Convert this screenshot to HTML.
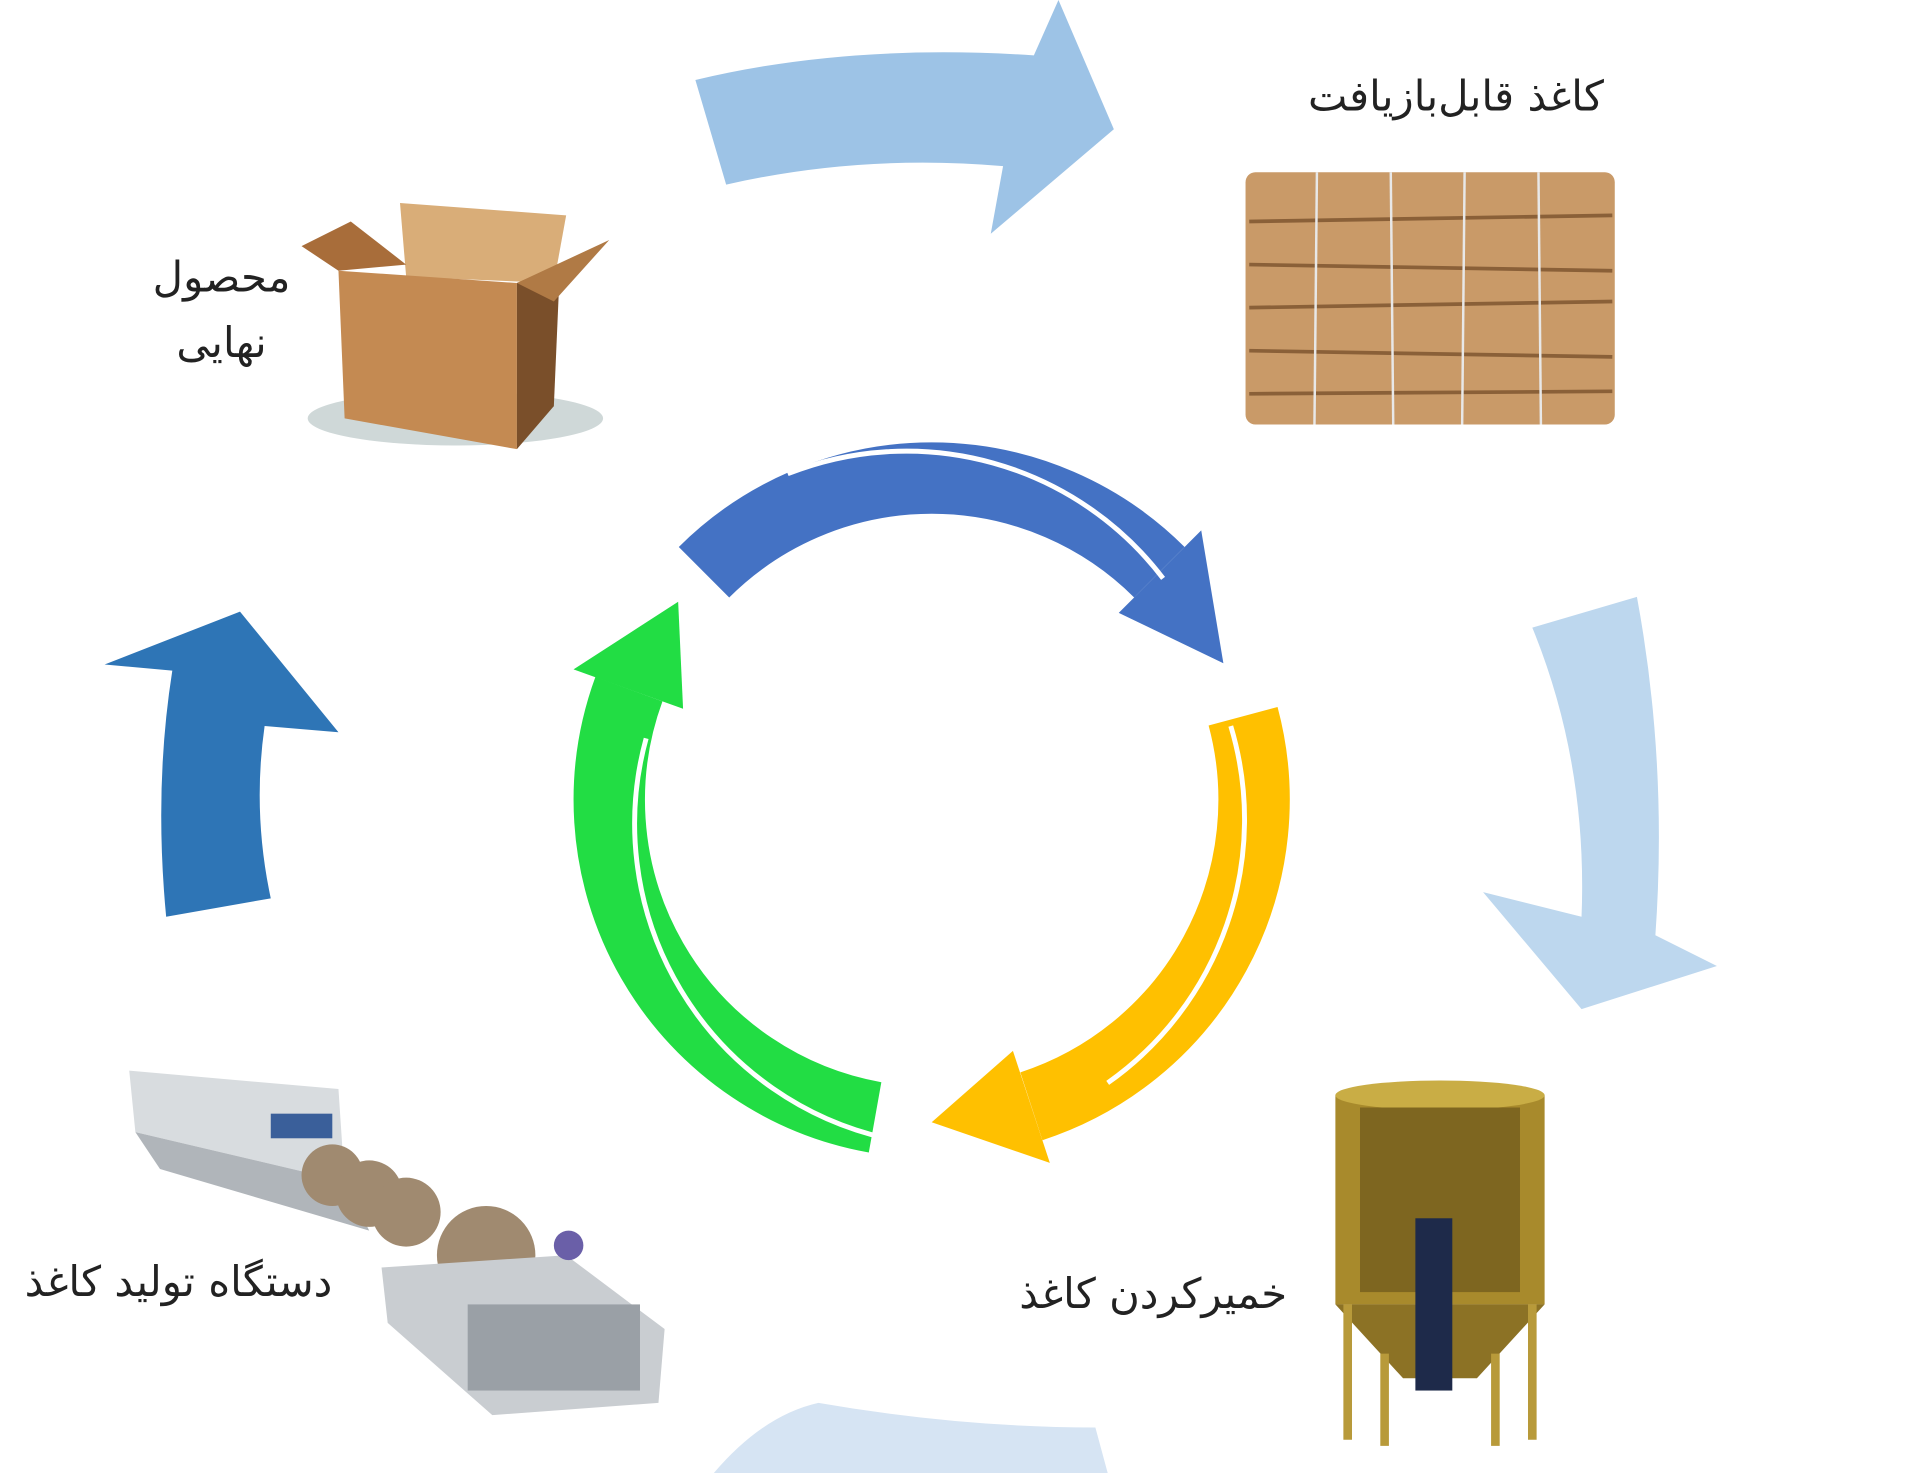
<!DOCTYPE html>
<html><head><meta charset="utf-8"><style>
html,body{margin:0;padding:0;background:#fff;width:1920px;height:1473px;overflow:hidden}
svg{display:block}
text{font-family:"DejaVu Sans","Liberation Sans",sans-serif;font-size:34px;fill:#222}
</style></head><body>
<svg width="1920" height="1473" viewBox="0 0 1560 1197" preserveAspectRatio="none">
<!-- outer light arrows -->
<path d="M565,65 Q690,35 840,45 L860,0 L905,105 L805,190 L815,135 Q700,125 590,150 Z" fill="#9dc3e6"/>
<path d="M1245,510 L1330,485 Q1355,620 1345,760 L1395,785 L1285,820 L1205,725 L1285,745 Q1290,620 1245,510 Z" fill="#bdd7ee"/>
<path d="M135,745 Q125,640 140,545 L85,540 L195,497 L275,595 L215,590 Q205,660 220,730 Z" fill="#2e75b6"/>
<path d="M580,1197 Q620,1150 665,1140 Q780,1160 890,1160 L900,1197 Z" fill="#d6e4f3"/>

<!-- inner arrows -->
<g fill="none" stroke-width="58">
<path d="M572,465 A262,262 0 0 1 942,465" stroke="#4472c4"/>
<path d="M1010,582 A262,262 0 0 1 838,899" stroke="#ffc000"/>
<path d="M711,908 A262,262 0 0 1 511,560" stroke="#22dd44"/>
</g>
<polygon points="909,498 976,431 994,539" fill="#4472c4"/>
<polygon points="823,854 853,945 757,912" fill="#ffc000"/>
<polygon points="555,576 466,544 551,489" fill="#22dd44"/>
<g fill="none" stroke="#fff" stroke-width="4">
<path d="M640,385 A262,262 0 0 1 945,470"/>
<path d="M1000,590 A262,262 0 0 1 900,880"/>
<path d="M720,925 A262,262 0 0 1 525,600"/>
</g>

<!-- box -->
<g>
<ellipse cx="370" cy="340" rx="120" ry="22" fill="#cfd8d8"/>
<polygon points="325,165 460,175 450,230 330,225" fill="#d9ad78"/>
<polygon points="275,220 420,230 420,365 280,340" fill="#c48a52"/>
<polygon points="420,230 455,215 450,330 420,365" fill="#7a4f2a"/>
<polygon points="245,200 285,180 330,215 275,220" fill="#a86d3a"/>
<polygon points="420,230 495,195 450,245" fill="#b07a45"/>
</g>
<!-- bale -->
<g>
<rect x="1012" y="140" width="300" height="205" rx="8" fill="#c99a68"/>
<g stroke="#8a6038" stroke-width="3">
<line x1="1015" y1="180" x2="1310" y2="175"/><line x1="1015" y1="215" x2="1310" y2="220"/>
<line x1="1015" y1="250" x2="1310" y2="245"/><line x1="1015" y1="285" x2="1310" y2="290"/>
<line x1="1015" y1="320" x2="1310" y2="318"/></g>
<g stroke="#e8e8e8" stroke-width="2">
<line x1="1070" y1="140" x2="1068" y2="345"/><line x1="1130" y1="140" x2="1132" y2="345"/>
<line x1="1190" y1="140" x2="1188" y2="345"/><line x1="1250" y1="140" x2="1252" y2="345"/></g>
</g>
<!-- pulper -->
<g>
<rect x="1085" y="890" width="170" height="170" fill="#a88a2c"/>
<ellipse cx="1170" cy="890" rx="85" ry="12" fill="#c9ad45"/>
<rect x="1105" y="900" width="130" height="150" fill="#7e6620"/>
<polygon points="1085,1060 1255,1060 1200,1120 1140,1120" fill="#8c7225"/>
<rect x="1150" y="990" width="30" height="140" fill="#1e2a4a"/>
<g stroke="#b89a3a" stroke-width="7"><line x1="1095" y1="1060" x2="1095" y2="1170"/><line x1="1245" y1="1060" x2="1245" y2="1170"/><line x1="1125" y1="1100" x2="1125" y2="1175"/><line x1="1215" y1="1100" x2="1215" y2="1175"/></g>
</g>
<!-- machine -->
<g>
<polygon points="105,870 275,885 280,960 110,920" fill="#d8dcdf"/>
<polygon points="110,920 280,960 300,1000 130,950" fill="#b0b5ba"/>
<rect x="220" y="905" width="50" height="20" fill="#3a5f9a"/>
<g fill="#a08a70"><circle cx="270" cy="955" r="25"/><circle cx="300" cy="970" r="27"/><circle cx="330" cy="985" r="28"/><circle cx="395" cy="1020" r="40"/></g>
<polygon points="310,1030 460,1020 540,1080 535,1140 400,1150 315,1075" fill="#c9cdd1"/>
<rect x="380" y="1060" width="140" height="70" fill="#9aa0a6"/>
<circle cx="462" cy="1012" r="12" fill="#6a5fa8"/>
</g>

<!-- labels -->
<text x="1183" y="90" text-anchor="middle">کاغذ قابل‌بازیافت</text>
<text x="180" y="237" text-anchor="middle">محصول</text>
<text x="180" y="290" text-anchor="middle">نهایی</text>
<text x="145" y="1053" text-anchor="middle">دستگاه تولید کاغذ</text>
<text x="937" y="1063" text-anchor="middle">خمیرکردن کاغذ</text>
</svg>
</body></html>
